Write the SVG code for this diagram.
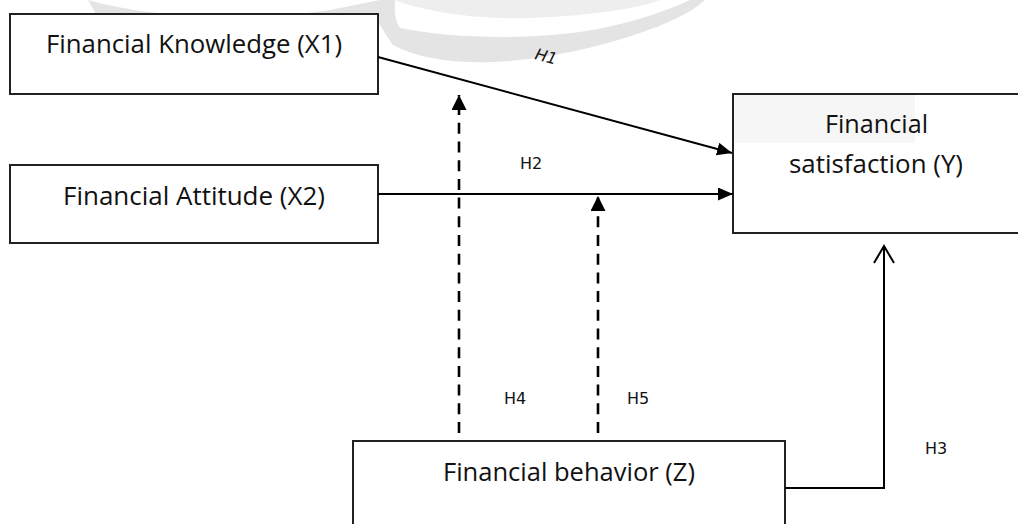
<svg xmlns="http://www.w3.org/2000/svg" width="1018" height="524" viewBox="0 0 1018 524">
  <style>
    .box { fill: #ffffff; stroke: #222222; stroke-width: 2; }
    .lbl { font-family: "Open Sans", "Liberation Sans", sans-serif; font-size: 25px; fill: #111111; text-anchor: middle; }
    .h { font-family: "DejaVu Sans", "Liberation Sans", sans-serif; font-size: 16px; fill: #111111; }
    .solid { fill: none; stroke: #000000; stroke-width: 2; }
    .dash { fill: none; stroke: #000000; stroke-width: 2.6; stroke-dasharray: 11 7.7; }
    .wm { fill: #e4e4e4; }
  </style>
  <defs>
    <marker id="tri" viewBox="0 0 15 13" refX="15" refY="6.5" markerWidth="15" markerHeight="13" markerUnits="userSpaceOnUse" orient="auto">
      <path d="M0,0 L15,6.5 L0,13 z" fill="#000000"/>
    </marker>
    <marker id="tri2" viewBox="0 0 15 15" refX="15" refY="7.5" markerWidth="15" markerHeight="15" markerUnits="userSpaceOnUse" orient="auto">
      <path d="M0,0 L15,7.5 L0,15 z" fill="#000000"/>
    </marker>
  </defs>

  <rect x="0" y="0" width="1018" height="524" fill="#ffffff"/>

  <!-- faint watermark -->
  <g id="watermark">
    <path class="wm" d="M88,0 C150,18 250,22 330,10 L380,0 L395,0 C385,10 380,18 378,22 L378,14 L96,14 Z"/>
    <path class="wm" d="M378,22 C383,30 388,38 393,45 C440,70 520,66 600,45 C650,32 690,15 705,0 L690,0 C660,14 620,26 580,32 C520,40 450,38 400,28 C396,22 394,14 395,0 L388,0 C384,8 380,15 378,22 Z"/>
    <path fill="#eeeeee" d="M395,0 C420,10 470,20 530,18 C590,16 640,8 660,0 Z"/>
    <rect x="734" y="95" width="181" height="48" fill="#f6f6f6"/>
  </g>

  <g id="node-x1">
    <rect class="box" x="10" y="14" width="368" height="80"/>
    <text class="lbl" x="194" y="53" textLength="296" lengthAdjust="spacingAndGlyphs">Financial Knowledge (X1)</text>
  </g>
  <g id="node-x2">
    <rect class="box" x="10" y="165" width="368" height="78"/>
    <text class="lbl" x="194" y="205" textLength="262" lengthAdjust="spacingAndGlyphs">Financial Attitude (X2)</text>
  </g>
  <g id="node-y">
    <rect class="box" x="733" y="94" width="300" height="139"/>
    <rect x="734" y="95" width="181" height="48" fill="#f6f6f6"/>
    <text class="lbl" x="876.5" y="133" textLength="103" lengthAdjust="spacingAndGlyphs">Financial</text>
    <text class="lbl" x="876" y="173" textLength="174" lengthAdjust="spacingAndGlyphs">satisfaction (Y)</text>
  </g>
  <g id="node-z">
    <rect class="box" x="353" y="441" width="432" height="100"/>
    <text class="lbl" x="569" y="481" textLength="252" lengthAdjust="spacingAndGlyphs">Financial behavior (Z)</text>
  </g>

  <g id="connectors">
    <line class="solid" x1="378" y1="57" x2="732" y2="153" marker-end="url(#tri)"/>
    <line class="solid" x1="378" y1="194" x2="733" y2="194" marker-end="url(#tri)"/>
    <line class="dash" x1="459" y1="433" x2="459" y2="95" marker-end="url(#tri2)"/>
    <line class="dash" x1="598" y1="433" x2="598" y2="196" marker-end="url(#tri2)"/>
    <polyline class="solid" points="785,488 884,488 884,246"/>
    <polyline class="solid" points="874,263 884,246 894,263"/>
  </g>

  <g id="labels">
    <text class="h" x="546" y="62" font-style="italic" text-anchor="middle" transform="rotate(15 546 57)">H1</text>
    <text class="h" x="520" y="169">H2</text>
    <text class="h" x="925" y="454">H3</text>
    <text class="h" x="504" y="404">H4</text>
    <text class="h" x="627" y="404">H5</text>
  </g>
</svg>
